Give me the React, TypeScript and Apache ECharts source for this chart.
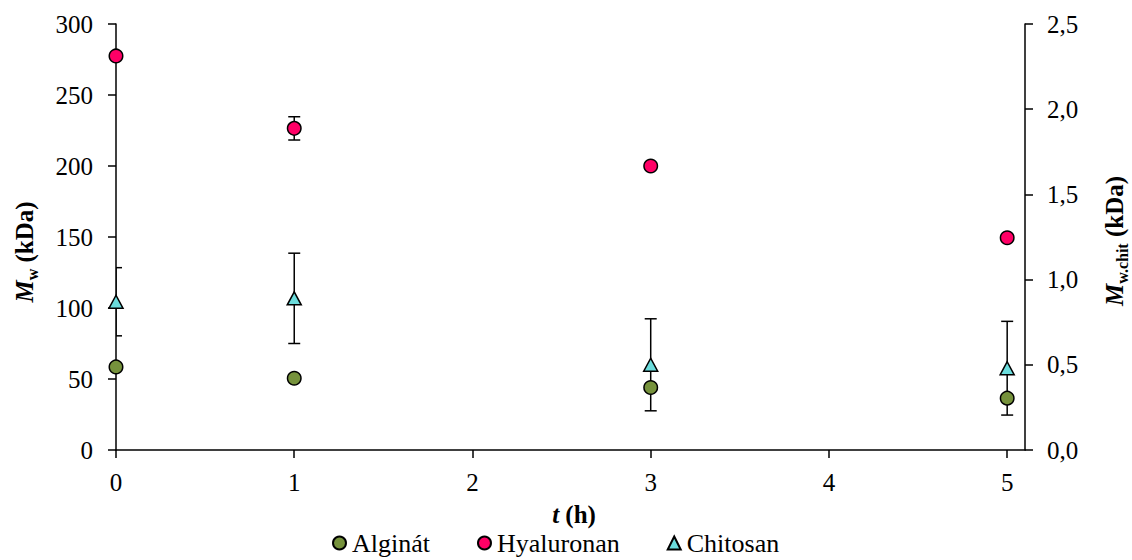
import React, { useEffect, useRef } from "react";
import * as echarts from "echarts";

const times = [0, 1, 3, 5];
const alginate = [58.5, 50.5, 44, 36.5];
const hyaluronan = [277.5, 226.5, 200, 149.5];
const hyaluronanErr = [0, 8.2, 0, 0];
const chitosan = [0.87, 0.89, 0.5, 0.48];
const chitosanErr = [0.2, 0.265, 0.27, 0.275];
const xTicks = [0, 1, 2, 3, 4, 5];
const seriesNames = ["Alginát", "Hyaluronan", "Chitosan"];

const FONT = "Liberation Serif, Times New Roman, serif";
const FS = 25;

export default function App() {
  const ref = useRef<HTMLDivElement>(null);
  useEffect(() => {
    document.body.style.margin = "0";
    if (!ref.current) return;
    const chart = echarts.init(ref.current, undefined, { renderer: "svg" });

    const pairs = (ys: number[]) => times.map((t, i) => [t, ys[i]]);
    const errData = (ys: number[], es: number[]) =>
      times.map((t, i) => [t, ys[i], es[i]]).filter((d) => d[2] > 0);

    const renderErr = (params: any, api: any) => {
      const x = api.value(0);
      const y = api.value(1);
      const e = api.value(2);
      const top = api.coord([x, y + e]);
      const bot = api.coord([x, y - e]);
      const cap = 6;
      const style = { stroke: "#000", lineWidth: 1.5 };
      return {
        type: "group",
        children: [
          { type: "line", shape: { x1: top[0], y1: top[1], x2: bot[0], y2: bot[1] }, style },
          { type: "line", shape: { x1: top[0] - cap, y1: top[1], x2: top[0] + cap, y2: top[1] }, style },
          { type: "line", shape: { x1: bot[0] - cap, y1: bot[1], x2: bot[0] + cap, y2: bot[1] }, style },
        ],
      };
    };

    const axisLine = { show: true, onZero: false, lineStyle: { color: "#000", width: 1.5 } };
    const axisTick = { show: true, inside: false, length: 8, lineStyle: { color: "#000", width: 1.5 } };
    const labelBase = { color: "#000", fontSize: FS, fontFamily: FONT };
    const comma = (v: number) => v.toFixed(1).replace(".", ",");

    const titleRich = {
      m: { fontFamily: FONT, fontSize: FS, fontWeight: "bold", fontStyle: "italic", color: "#000", lineHeight: 26, verticalAlign: "top" },
      s: { fontFamily: FONT, fontSize: 16, fontWeight: "bold", color: "#000", lineHeight: 16, verticalAlign: "top", padding: [12, 0, 0, 0] },
      b: { fontFamily: FONT, fontSize: FS, fontWeight: "bold", color: "#000", lineHeight: 26, verticalAlign: "top" },
    };

    chart.setOption({
      animation: false,
      backgroundColor: "#fff",
      textStyle: { fontFamily: FONT },
      grid: { left: 116, right: 107, top: 24, bottom: 110, containLabel: false, outerBoundsMode: "none" },
      xAxis: {
        type: "value",
        min: 0,
        max: 5.1,
        interval: 1,
        axisLine,
        axisTick: { ...axisTick, customValues: xTicks },
        splitLine: { show: false },
        axisLabel: {
          ...labelBase,
          margin: 20,
          customValues: xTicks,
          formatter: (v: number) => (Number.isInteger(v) ? String(v) : ""),
        },
      },
      yAxis: [
        {
          type: "value",
          min: 0,
          max: 300,
          interval: 50,
          axisLine,
          axisTick,
          splitLine: { show: false },
          axisLabel: { ...labelBase, margin: 23 },
        },
        {
          type: "value",
          position: "right",
          min: 0,
          max: 2.5,
          interval: 0.5,
          axisLine,
          axisTick,
          splitLine: { show: false },
          axisLabel: { ...labelBase, margin: 22, formatter: comma },
        },
      ],
      legend: {
        data: seriesNames,
        left: 332,
        top: 530,
        itemWidth: 13,
        itemHeight: 13,
        itemGap: 47,
        padding: 0,
        textStyle: { ...labelBase, fontSize: 26, lineHeight: 26, padding: [0, 0, 0, 1] },
      },
      graphic: [
        {
          type: "text",
          x: 25,
          y: 252,
          rotation: Math.PI / 2,
          style: { text: "{m|M}{s|w}{b| (kDa)}", rich: titleRich, align: "center", verticalAlign: "middle" },
        },
        {
          type: "text",
          x: 1115,
          y: 241,
          rotation: Math.PI / 2,
          style: { text: "{m|M}{s|w.chit}{b| (kDa)}", rich: titleRich, align: "center", verticalAlign: "middle" },
        },
        {
          type: "text",
          x: 574,
          y: 515,
          style: { text: "{m|t}{b| (h)}", rich: titleRich, align: "center", verticalAlign: "middle" },
        },
      ],
      series: [
        {
          name: seriesNames[0],
          type: "scatter",
          yAxisIndex: 0,
          symbol: "circle",
          symbolSize: 13.5,
          itemStyle: { color: "#76923C", borderColor: "#000", borderWidth: 1.5, opacity: 1 },
          data: pairs(alginate),
        },
        {
          type: "custom",
          yAxisIndex: 1,
          clip: true,
          renderItem: renderErr,
          encode: { x: 0, y: 1 },
          data: errData(chitosan, chitosanErr),
          silent: true,
        },
        {
          type: "custom",
          yAxisIndex: 0,
          clip: true,
          renderItem: renderErr,
          encode: { x: 0, y: 1 },
          data: errData(hyaluronan, hyaluronanErr),
          silent: true,
        },
        {
          name: seriesNames[1],
          type: "scatter",
          yAxisIndex: 0,
          symbol: "circle",
          symbolSize: 13.5,
          itemStyle: { color: "#FF0066", borderColor: "#000", borderWidth: 1.5, opacity: 1 },
          data: pairs(hyaluronan),
        },
        {
          name: seriesNames[2],
          type: "scatter",
          yAxisIndex: 1,
          symbol: "triangle",
          symbolSize: [14, 13],
          itemStyle: { color: "#6BDCDC", borderColor: "#000", borderWidth: 1.5, opacity: 1 },
          data: pairs(chitosan),
        },
      ],
    });
    return () => chart.dispose();
  }, []);
  return <div ref={ref} style={{ width: 1132, height: 560 }} />;
}
